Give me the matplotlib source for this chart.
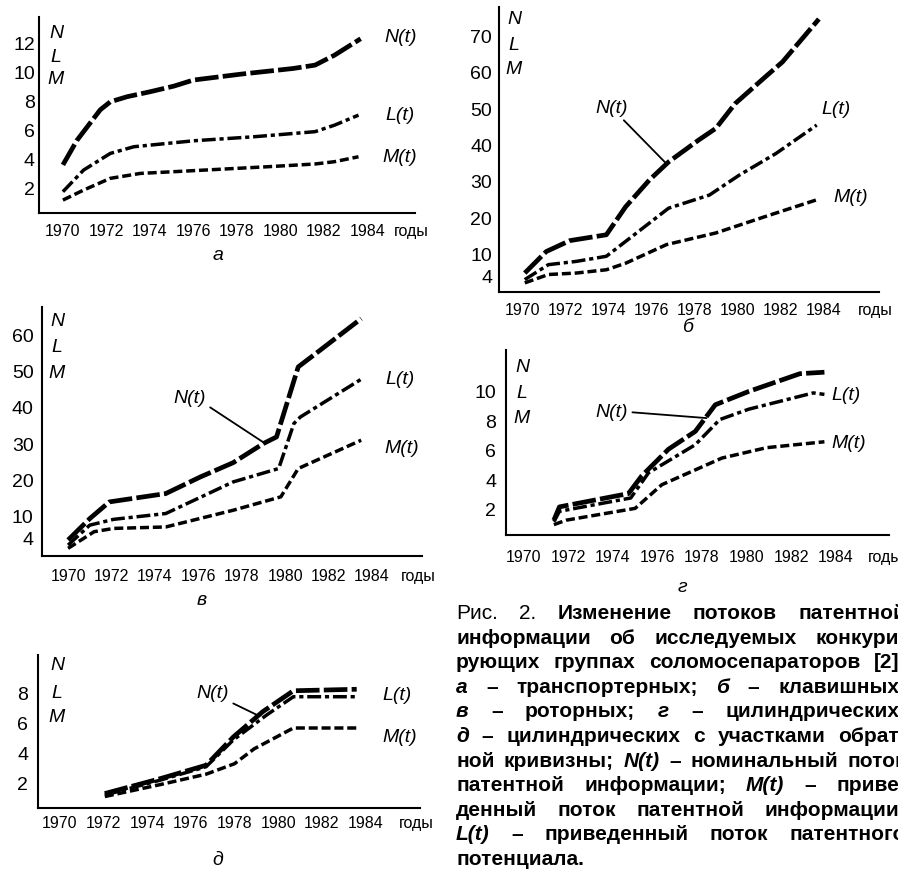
import matplotlib
matplotlib.use("Agg")
import matplotlib.pyplot as plt

W, H = 898, 871

# panel a
a_N_years = [1970.0, 1970.65, 1971.26, 1971.72, 1972.18, 1972.95, 1974.0, 1975.1, 1976.0, 1978.2, 1980.6, 1981.6, 1982.5, 1983.7]
a_N = [3.6, 5.3, 6.5, 7.4, 7.95, 8.3, 8.64, 9.03, 9.45, 9.86, 10.25, 10.48, 11.17, 12.3]
a_L_years = [1970.0, 1970.95, 1972.18, 1973.26, 1976.0, 1978.8, 1981.6, 1982.5, 1983.6]
a_L = [1.75, 3.24, 4.39, 4.85, 5.26, 5.54, 5.89, 6.34, 7.03]
a_M_years = [1970.0, 1970.95, 1972.18, 1973.56, 1976.0, 1979.4, 1981.6, 1982.5, 1983.6]
a_M = [1.17, 1.86, 2.67, 3.01, 3.2, 3.47, 3.66, 3.82, 4.16]

# panel б
b_N_years = [1970.1, 1971.1, 1972.2, 1973.9, 1974.8, 1975.9, 1976.8, 1978.2, 1979.0, 1979.9, 1981.3, 1982.1, 1983.8]
b_N = [5.0, 10.9, 13.9, 15.5, 23.2, 30.5, 35.5, 41.5, 44.7, 51.5, 58.8, 62.9, 74.7]
b_L_years = [1970.1, 1971.2, 1972.5, 1973.9, 1975.0, 1976.8, 1978.7, 1980.1, 1981.8, 1983.7]
b_L = [3.2, 7.3, 8.2, 9.6, 14.6, 22.8, 26.4, 31.9, 37.8, 45.6]
b_M_years = [1970.1, 1971.2, 1972.5, 1973.9, 1974.8, 1976.7, 1979.0, 1981.3, 1983.7]
b_M = [2.3, 4.6, 5.0, 5.9, 7.7, 12.8, 16.0, 20.5, 25.1]

# panel в
v_N_years = [1970.0, 1971.0, 1971.9, 1974.5, 1976.1, 1977.6, 1979.0, 1979.6, 1980.6, 1981.5, 1983.5]
v_N = [3.6, 9.5, 14.1, 16.4, 21.0, 24.9, 30.2, 32.0, 51.3, 55.4, 64.6]
v_L_years = [1970.0, 1971.0, 1972.1, 1974.5, 1977.6, 1979.7, 1980.4, 1980.7, 1983.5]
v_L = [2.2, 7.7, 9.3, 10.9, 19.6, 23.3, 35.7, 37.5, 47.9]
v_M_years = [1970.0, 1971.2, 1972.1, 1974.5, 1977.6, 1979.8, 1980.6, 1983.5]
v_M = [1.3, 5.9, 6.8, 7.2, 11.8, 15.5, 23.3, 31.1]

# panel г
g_N_years = [1971.35, 1971.6, 1974.7, 1975.3, 1976.5, 1977.7, 1978.6, 1980.1, 1982.4, 1983.5]
g_N = [1.3, 2.2, 3.1, 4.3, 6.1, 7.3, 9.1, 10.0, 11.2, 11.3]
g_L_years = [1971.35, 1971.6, 1974.8, 1975.6, 1977.7, 1978.8, 1980.1, 1983.0, 1983.5]
g_L = [1.2, 1.9, 2.8, 4.5, 6.4, 8.1, 8.8, 9.9, 9.8]
g_M_years = [1971.35, 1971.9, 1975.0, 1976.2, 1977.4, 1978.9, 1980.9, 1983.5]
g_M = [1.0, 1.3, 2.1, 3.7, 4.5, 5.5, 6.2, 6.6]

# panel д
d_N_years = [1972.06, 1974.6, 1976.7, 1977.95, 1979.3, 1980.7, 1983.6]
d_N = [1.3, 2.3, 3.2, 5.1, 6.8, 8.2, 8.3]
d_L_years = [1972.06, 1974.6, 1976.7, 1977.95, 1979.5, 1980.7, 1983.6]
d_L = [1.2, 2.2, 3.1, 4.9, 6.6, 7.8, 7.8]
d_M_years = [1972.06, 1974.6, 1976.7, 1978.0, 1978.9, 1980.7, 1983.7]
d_M = [1.1, 1.9, 2.6, 3.3, 4.3, 5.7, 5.7]

x_ticks = [1970, 1972, 1974, 1976, 1978, 1980, 1982, 1984]
a_yticks = [2, 4, 6, 8, 10, 12]
b_yticks = [4, 10, 20, 30, 40, 50, 60, 70]
v_yticks = [4, 10, 20, 30, 40, 50, 60]
g_yticks = [2, 4, 6, 8, 10]
d_yticks = [2, 4, 6, 8]

caption = [
    "_Рис. _2. Изменение потоков патентной",
    "информации об исследуемых конкури-",
    "рующих группах соломосепараторов [2]:",
    "*а – транспортерных; *б – клавишных;",
    "*в – роторных; *г – цилиндрических;",
    "*д – цилиндрических с участками обрат-",
    "ной кривизны; *N(t) – номинальный поток",
    "патентной информации; *M(t) – приве-",
    "денный поток патентной информации;",
    "*L(t) – приведенный поток патентного",
    "потенциала.",
]

fig = plt.figure(figsize=(W / 100, H / 100), dpi=100)

SANS = ["Liberation Sans", "DejaVu Sans"]
FS = 14
XFS = 11.5

N_STYLE = dict(color="k", lw=3.4, dashes=(5, 0.9))
L_STYLE = dict(color="k", lw=2.5, dashes=(4, 1.1, 1.2, 1.1))
M_STYLE = dict(color="k", lw=2.5, dashes=(2.6, 1.1))


def panel(l, t, r, b, xlim, ylim, yticks, series, xpad, ypad):
    ax = fig.add_axes([l / W, 1 - b / H, (r - l) / W, (b - t) / H])
    for yrs, vals, st in series:
        ax.plot(yrs, vals, **st)
    ax.set_xlim(*xlim)
    ax.set_ylim(*ylim)
    ax.set_xticks(x_ticks)
    ax.set_xticklabels([str(x) for x in x_ticks], family=SANS, fontsize=XFS)
    ax.set_yticks(yticks)
    ax.set_yticklabels([str(y) for y in yticks], family=SANS, fontsize=FS)
    ax.tick_params(axis="x", length=0, pad=xpad)
    ax.tick_params(axis="y", length=0, pad=ypad)
    for s in ["top", "right"]:
        ax.spines[s].set_visible(False)
    for s in ["left", "bottom"]:
        ax.spines[s].set_linewidth(1.5)
    ax.patch.set_alpha(0)
    ax.annotate("годы", xy=(0.99, 0), xycoords="axes fraction",
                xytext=(0, -xpad), textcoords="offset points",
                ha="center", va="top", family=SANS, fontsize=XFS)
    return ax


def ftext(x, y, s, **kw):
    kw.setdefault("ha", "center")
    kw.setdefault("va", "center")
    kw.setdefault("fontsize", FS)
    kw.setdefault("family", SANS)
    fig.text(x / W, 1 - y / H, s, **kw)


def nlm(x, ys):
    for y, s in zip(ys, "NLM"):
        ftext(x, y, s, fontstyle="italic")


def leader(ax, s, xy, txy, rel):
    ax.annotate(s, xy=xy, xycoords="data", xytext=(txy[0], H - txy[1]),
                textcoords="figure pixels", ha="center", va="center",
                fontsize=FS, fontstyle="italic", family=SANS,
                arrowprops=dict(arrowstyle="-", color="k", lw=1.3,
                                shrinkA=1, shrinkB=0, relpos=rel))


# a
ax_a = panel(39, 17, 415, 213, (1968.9, 1986.2), (0.28, 13.8), a_yticks,
             [(a_N_years, a_N, N_STYLE), (a_L_years, a_L, L_STYLE), (a_M_years, a_M, M_STYLE)], 8, 3)
nlm(56, [33, 58, 80])
ftext(401, 37, "N(t)", fontstyle="italic")
ftext(400, 115, "L(t)", fontstyle="italic")
ftext(400, 157, "M(t)", fontstyle="italic")
ftext(218, 255, "а", fontstyle="italic")

# б
ax_b = panel(499, 7, 879, 292, (1968.9, 1986.6), (-0.2, 78), b_yticks,
             [(b_N_years, b_N, N_STYLE), (b_L_years, b_L, L_STYLE), (b_M_years, b_M, M_STYLE)], 8, 5)
nlm(514, [20, 45, 70])
leader(ax_b, "N(t)", (1976.7, 35), (612, 108), (0.75, 0.0))
ftext(836, 110, "L(t)", fontstyle="italic")
ftext(851, 197, "M(t)", fontstyle="italic")
ftext(689, 328, "б", fontstyle="italic")

# в
ax_v = panel(42, 307, 422, 556, (1968.8, 1986.3), (-0.8, 67.8), v_yticks,
             [(v_N_years, v_N, N_STYLE), (v_L_years, v_L, L_STYLE), (v_M_years, v_M, M_STYLE)], 9, 6)
nlm(57, [322, 348, 373])
leader(ax_v, "N(t)", (1979.0, 30.5), (190, 398), (1.0, 0.1))
ftext(400, 380, "L(t)", fontstyle="italic")
ftext(402, 448, "M(t)", fontstyle="italic")
ftext(202, 600, "в", fontstyle="italic")

# г
ax_g = panel(506, 350, 889, 535, (1969.2, 1986.4), (0.3, 12.8), g_yticks,
             [(g_N_years, g_N, N_STYLE), (g_L_years, g_L, L_STYLE), (g_M_years, g_M, M_STYLE)], 11, 7)
nlm(522, [367, 393, 418])
leader(ax_g, "N(t)", (1978.2, 8.2), (612, 412), (1.0, 0.5))
ftext(846, 395, "L(t)", fontstyle="italic")
ftext(849, 443, "M(t)", fontstyle="italic")
ftext(682, 587, "г", fontstyle="italic")

# д
ax_d = panel(38, 655, 420, 808, (1969.0, 1986.5), (0.33, 10.6), d_yticks,
             [(d_N_years, d_N, N_STYLE), (d_L_years, d_L, L_STYLE), (d_M_years, d_M, M_STYLE)], 6, 7)
nlm(57, [665, 693, 717])
leader(ax_d, "N(t)", (1979.0, 6.6), (213, 693), (1.0, 0.0))
ftext(397, 695, "L(t)", fontstyle="italic")
ftext(400, 738, "M(t)", fontstyle="italic")
ftext(218, 860, "д", fontstyle="italic")

# caption, justified, cut by the right edge of the picture
renderer = fig.canvas.get_renderer()
CAP_FS = 15
left, right = 456, 906
for i, line in enumerate(caption):
    base = 619 + 24.6 * i
    words = []
    for w in line.split(" "):
        kw = dict(fontsize=CAP_FS, family=SANS, fontweight="bold")
        if w.startswith("_"):
            w = w[1:]
            kw["fontweight"] = "normal"
        elif w.startswith("*"):
            w = w[1:]
            kw["fontstyle"] = "italic"
        t = fig.text(0, 1 - base / H, w, ha="left", va="baseline", **kw)
        words.append((t, t.get_window_extent(renderer).width))
    total = sum(wd for _, wd in words)
    space = 0.278 * CAP_FS * 100 / 72
    if i < len(caption) - 1 and len(words) > 1:
        gap = max((right - left - total) / (len(words) - 1), space * 0.8)
    else:
        gap = space
    x = left
    for t, wd in words:
        t.set_x(x / W)
        x += wd + gap

fig.savefig("out.png", dpi=100)
